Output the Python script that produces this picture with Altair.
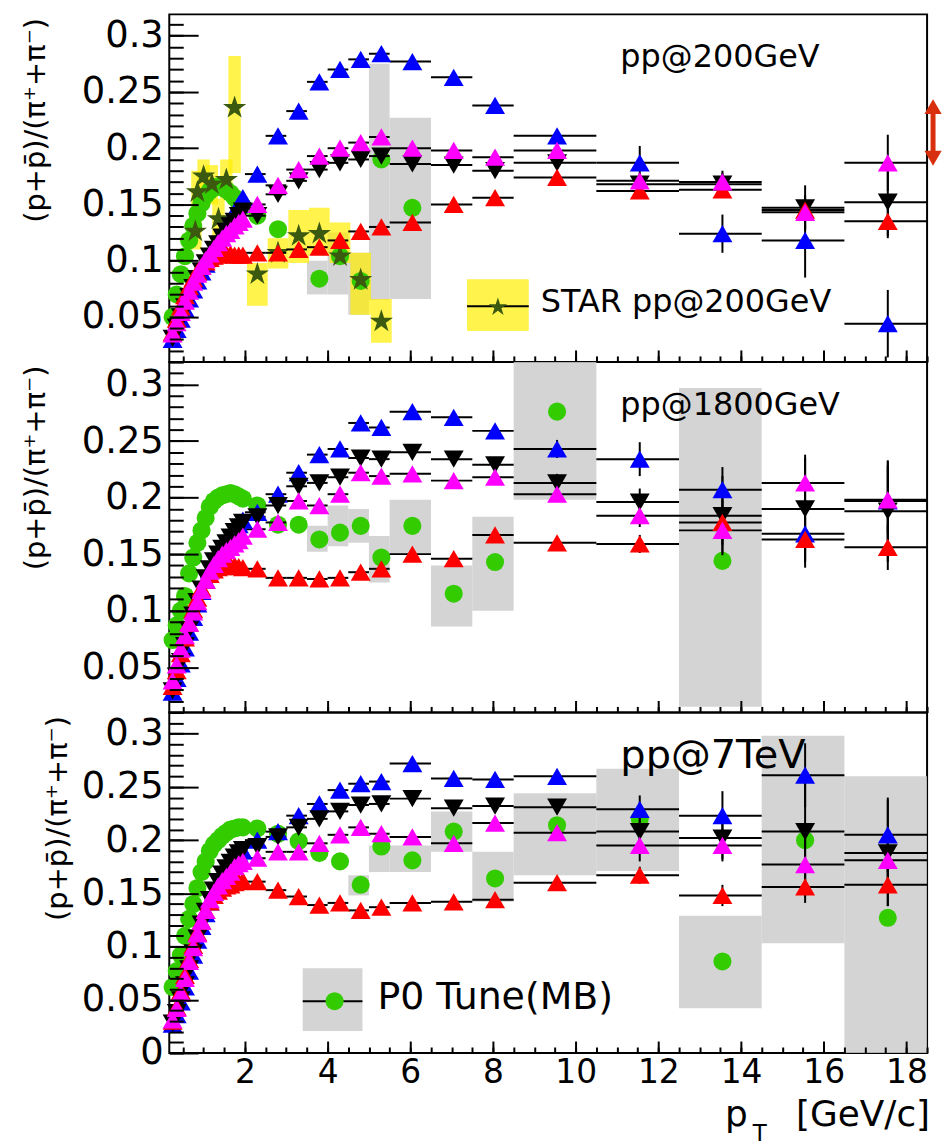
import altair as alt
import pandas as pd

FONT = "DejaVu Sans"
W = 761
X_DOMAIN = [0.17, 18.5]
X_MAJOR = [2, 4, 6, 8, 10, 12, 14, 16, 18]
X_MINOR = [0.5 * i for i in range(1, 38)]
Y_MAJOR = [0.05, 0.1, 0.15, 0.2, 0.25, 0.3]
Y_MAJOR_BOTTOM = [0, 0.05, 0.1, 0.15, 0.2, 0.25, 0.3]
Y_MINOR = [round(0.01 * i, 2) for i in range(0, 33)]
Y_TITLE = "(p+p\u0304)/(\u03c0\u207a+\u03c0\u207b)"

BLUE = "#0000ff"
BLACK = "#000000"
RED = "#ff0000"
MAGENTA = "#ff00ff"
GREEN = "#33cc00"
STAR_COLOR = "#3b5a10"
YELLOW = "#ffee00"
GREY = "#cdcdcd"
ARROW_COLOR = "#d8300e"
STAR_PATH = ("M0,-1L0.2245,-0.309L0.9511,-0.309L0.3633,0.118L0.5878,0.809L0,0.382"
             "L-0.5878,0.809L-0.3633,0.118L-0.9511,-0.309L-0.2245,-0.309Z")

# ---------------- shared x positions ----------------
X_LOW = [0.25, 0.35, 0.45, 0.55, 0.65, 0.75, 0.85, 0.95, 1.05, 1.15, 1.25, 1.35,
         1.45, 1.55, 1.65, 1.75, 1.85, 1.95]
X_HIGH = [2.3, 2.8, 3.3, 3.8, 4.3, 4.8, 5.3, 6.05, 7.05, 8.05, 9.55, 11.55, 13.55, 15.55, 17.55]
BIN_LO = [2.0, 2.5, 3.0, 3.5, 4.0, 4.5, 5.0, 5.5, 6.5, 7.5, 8.5, 10.5, 12.5, 14.5, 16.5]
BIN_HI = [2.5, 3.0, 3.5, 4.0, 4.5, 5.0, 5.5, 6.5, 7.5, 8.5, 10.5, 12.5, 14.5, 16.5, 18.5]

# ---------------- pp @ 200 GeV ----------------
BLUE_200_LOW = [0.030, 0.039, 0.048, 0.057, 0.066, 0.074, 0.082, 0.090, 0.097, 0.104, 0.111, 0.118,
                0.125, 0.131, 0.137, 0.143, 0.150, 0.156]
BLACK_200_LOW = [0.031, 0.041, 0.050, 0.059, 0.068, 0.076, 0.084, 0.091, 0.098, 0.104, 0.110, 0.115,
                 0.121, 0.126, 0.131, 0.135, 0.140, 0.144]
MAGENTA_200_LOW = [0.035, 0.045, 0.054, 0.064, 0.073, 0.081, 0.088, 0.095, 0.101, 0.106, 0.111, 0.116,
                   0.120, 0.124, 0.127, 0.131, 0.134, 0.137]
RED_200_LOW = [0.036, 0.048, 0.059, 0.069, 0.077, 0.084, 0.090, 0.095, 0.099, 0.102, 0.104, 0.105,
               0.106, 0.106, 0.106, 0.105, 0.105, 0.105]
GREEN_200_LOW = [0.050, 0.070, 0.088, 0.104, 0.118, 0.131, 0.142, 0.151, 0.158, 0.162, 0.165, 0.166,
                 0.165, 0.163, 0.160, 0.156, 0.152, 0.148]
BLUE_200_HIGH = [0.177, 0.211, 0.233, 0.259, 0.270, 0.279, 0.284, 0.277, 0.263, 0.238, 0.211, 0.187, 0.124, 0.118, 0.044]
BLACK_200_HIGH = [0.140, 0.159, 0.171, 0.181, 0.187, 0.190, 0.193, 0.186, 0.185, 0.180, 0.187, 0.168, 0.168, 0.147, 0.152]
MAGENTA_200_HIGH = [0.150, 0.167, 0.181, 0.193, 0.200, 0.205, 0.210, 0.200, 0.198, 0.192, 0.198, 0.171, 0.170, 0.143, 0.187]
RED_200_HIGH = [0.107, 0.107, 0.110, 0.112, 0.118, 0.126, 0.130, 0.134, 0.150, 0.156, 0.174, 0.162, 0.163, 0.145, 0.135]
BLUE_200_ERR = [0, 0, 0, 0, 0, 0, 0, 0, 0.003, 0.004, 0.006, 0.015, 0.017, 0.033, 0.030]
BLACK_200_ERR = [0, 0, 0, 0, 0, 0, 0, 0, 0.003, 0.004, 0.006, 0.008, 0.010, 0.020, 0.030]
MAGENTA_200_ERR = [0, 0, 0, 0, 0, 0, 0, 0, 0.003, 0.004, 0.005, 0.007, 0.010, 0.015, 0.025]
RED_200_ERR = [0, 0, 0, 0, 0, 0, 0, 0, 0.002, 0.003, 0.004, 0.005, 0.007, 0.010, 0.015]
GREEN_200_HIGH = [0.140, 0.128, None, 0.084, 0.104, 0.082, 0.190, 0.147, None, None, None, None, None, None, None]
GREY_200_LO = [None, None, None, 0.070, 0.070, 0.052, 0.065, 0.066, None, None, None, None, None, None, None]
GREY_200_HI = [None, None, None, 0.100, 0.125, 0.107, 0.275, 0.227, None, None, None, None, None, None, None]

STAR_X = [0.80, 0.85, 1.00, 1.20, 1.36, 1.55, 1.75, 2.30, 2.80, 3.30, 3.80, 4.30, 4.80, 5.30]
STAR_Y = [0.126, 0.161, 0.175, 0.168, 0.137, 0.172, 0.236, 0.088, 0.107, 0.122, 0.124, 0.104, 0.083, 0.046]
STAR_LO = [0.110, 0.145, 0.158, 0.150, 0.120, 0.155, 0.178, 0.060, 0.093, 0.098, 0.105, 0.098, 0.052, 0.027]
STAR_HI = [0.142, 0.180, 0.190, 0.185, 0.155, 0.190, 0.282, 0.098, 0.120, 0.145, 0.147, 0.134, 0.107, 0.066]
STAR_HW = [0.15, 0.15, 0.15, 0.15, 0.15, 0.15, 0.15, 0.25, 0.25, 0.25, 0.25, 0.25, 0.25, 0.25]
ARROW_Y = [0.237, 0.191]

# ---------------- pp @ 1800 GeV ----------------
BLUE_1800_LOW = [0.028, 0.040, 0.053, 0.067, 0.081, 0.094, 0.106, 0.117, 0.127, 0.136, 0.143, 0.149,
                 0.155, 0.160, 0.166, 0.171, 0.176, 0.180]
BLACK_1800_LOW = [0.029, 0.042, 0.055, 0.069, 0.083, 0.096, 0.108, 0.119, 0.129, 0.137, 0.144, 0.150,
                  0.155, 0.160, 0.165, 0.170, 0.174, 0.178]
MAGENTA_1800_LOW = [0.038, 0.052, 0.066, 0.078, 0.089, 0.099, 0.108, 0.118, 0.127, 0.135, 0.141, 0.146,
                    0.150, 0.153, 0.156, 0.159, 0.162, 0.166]
RED_1800_LOW = [0.033, 0.047, 0.062, 0.076, 0.089, 0.101, 0.111, 0.120, 0.127, 0.132, 0.136, 0.138,
                0.139, 0.140, 0.140, 0.140, 0.139, 0.138]
GREEN_1800_LOW = [0.074, 0.087, 0.100, 0.113, 0.133, 0.147, 0.160, 0.171, 0.182, 0.192, 0.197, 0.200,
                  0.202, 0.203, 0.204, 0.203, 0.201, 0.199]
BLUE_1800_HIGH = [0.187, 0.203, 0.222, 0.238, 0.243, 0.266, 0.262, 0.276, 0.271, 0.259, 0.243, 0.234, 0.207, 0.168, 0.197]
BLACK_1800_HIGH = [0.183, 0.193, 0.210, 0.213, 0.218, 0.235, 0.234, 0.240, 0.234, 0.229, 0.213, 0.196, 0.184, 0.190, 0.188]
MAGENTA_1800_HIGH = [0.172, 0.178, 0.197, 0.193, 0.203, 0.222, 0.219, 0.221, 0.215, 0.218, 0.203, 0.184, 0.171, 0.213, 0.198]
RED_1800_HIGH = [0.137, 0.129, 0.129, 0.128, 0.129, 0.134, 0.137, 0.150, 0.146, 0.167, 0.160, 0.159, 0.178, 0.163, 0.156]
BLUE_1800_ERR = [0, 0, 0, 0, 0, 0, 0, 0, 0.003, 0.005, 0.008, 0.015, 0.020, 0.030, 0.035]
BLACK_1800_ERR = [0, 0, 0, 0, 0, 0, 0, 0, 0.003, 0.005, 0.008, 0.012, 0.035, 0.045, 0.045]
MAGENTA_1800_ERR = [0, 0, 0, 0, 0, 0, 0, 0, 0.003, 0.004, 0.006, 0.010, 0.020, 0.025, 0.030]
RED_1800_ERR = [0, 0, 0, 0, 0, 0, 0, 0, 0.002, 0.003, 0.005, 0.008, 0.020, 0.020, 0.020]
GREEN_1800_HIGH = [0.193, 0.176, 0.176, 0.163, 0.169, 0.175, 0.147, 0.175, 0.115, 0.143, 0.276, None, 0.144, None, None]
GREY_1800_LO = [None, None, None, 0.152, 0.157, 0.160, 0.125, 0.150, 0.086, 0.100, 0.198, None, 0.015, None, None]
GREY_1800_HI = [None, None, None, 0.175, 0.193, 0.190, 0.166, 0.198, 0.140, 0.183, 0.320, None, 0.297, None, None]

# ---------------- pp @ 7 TeV ----------------
BLUE_7_LOW = [0.027, 0.036, 0.048, 0.062, 0.077, 0.092, 0.106, 0.119, 0.131, 0.142, 0.151, 0.159,
              0.166, 0.172, 0.178, 0.183, 0.187, 0.190]
BLACK_7_LOW = [0.028, 0.038, 0.050, 0.064, 0.079, 0.094, 0.108, 0.121, 0.133, 0.144, 0.153, 0.161,
               0.168, 0.174, 0.179, 0.184, 0.188, 0.191]
MAGENTA_7_LOW = [0.031, 0.042, 0.056, 0.070, 0.086, 0.099, 0.112, 0.124, 0.134, 0.144, 0.151, 0.157,
                 0.162, 0.166, 0.170, 0.175, 0.178, 0.180]
RED_7_LOW = [0.030, 0.043, 0.058, 0.073, 0.088, 0.101, 0.113, 0.124, 0.134, 0.142, 0.148, 0.152,
             0.155, 0.157, 0.158, 0.160, 0.161, 0.162]
GREEN_7_LOW = [0.062, 0.077, 0.092, 0.110, 0.126, 0.140, 0.155, 0.170, 0.180, 0.190, 0.196, 0.200,
               0.204, 0.207, 0.210, 0.211, 0.212, 0.212]
BLUE_7_HIGH = [0.200, 0.208, 0.223, 0.234, 0.247, 0.253, 0.255, 0.272, 0.258, 0.257, 0.260, 0.229, 0.223, 0.261, 0.205]
BLACK_7_HIGH = [0.194, 0.203, 0.212, 0.220, 0.227, 0.233, 0.234, 0.239, 0.230, 0.232, 0.231, 0.208, 0.202, 0.208, 0.188]
MAGENTA_7_HIGH = [0.183, 0.189, 0.189, 0.197, 0.205, 0.212, 0.206, 0.203, 0.197, 0.216, 0.207, 0.195, 0.195, 0.177, 0.181]
RED_7_HIGH = [0.161, 0.153, 0.147, 0.139, 0.141, 0.134, 0.137, 0.141, 0.142, 0.144, 0.160, 0.167, 0.148, 0.156, 0.158]
BLUE_7_ERR = [0, 0, 0, 0, 0, 0, 0, 0, 0.003, 0.004, 0.006, 0.013, 0.023, 0.030, 0.035]
BLACK_7_ERR = [0, 0, 0, 0, 0, 0, 0, 0, 0.003, 0.004, 0.006, 0.015, 0.020, 0.050, 0.050]
MAGENTA_7_ERR = [0, 0, 0, 0, 0, 0, 0, 0, 0.003, 0.004, 0.005, 0.015, 0.015, 0.030, 0.030]
RED_7_ERR = [0, 0, 0, 0, 0, 0, 0, 0, 0.002, 0.003, 0.004, 0.008, 0.010, 0.015, 0.020]
GREEN_7_HIGH = [0.211, 0.206, 0.199, 0.188, 0.180, 0.158, 0.194, 0.181, 0.208, 0.164, 0.214, 0.220, 0.086, 0.200, 0.127]
GREY_7_LO = [None, None, None, None, None, 0.148, 0.170, 0.170, 0.189, 0.142, 0.167, 0.171, 0.042, 0.103, 0.000]
GREY_7_HI = [None, None, None, None, None, 0.167, 0.195, 0.195, 0.227, 0.189, 0.244, 0.267, 0.129, 0.298, 0.260]

ONE = pd.DataFrame({"k": [0]})


def series_frame(y_low, y_high, err):
    rows = []
    for x, y in zip(X_LOW, y_low):
        rows.append({"x": x, "y": y, "xl": x, "xh": x, "yl": y, "yh": y, "hi": 0})
    for x, y, e, lo, hi in zip(X_HIGH, y_high, err, BIN_LO, BIN_HI):
        rows.append({"x": x, "y": y, "xl": lo, "xh": hi, "yl": y - e, "yh": y + e, "hi": 1})
    return pd.DataFrame(rows)


def text_mark(txt, x, y, size, align="left", baseline="middle"):
    return alt.Chart(ONE).mark_text(text=txt, font=FONT, fontSize=size, align=align,
                                    baseline=baseline, color="black").encode(
        x=alt.value(x), y=alt.value(y))


def make_panel(height, ydom, ylabels, title_x, series, green_low, green_high, grey_lo, grey_hi,
               show_x_labels, under, over_green, after):
    xs = alt.Scale(domain=X_DOMAIN, nice=False, zero=False)
    ys = alt.Scale(domain=ydom, nice=False, zero=False)
    anchor = pd.DataFrame({"x": [X_DOMAIN[0]], "y": [ydom[0]]})
    inv = alt.Chart(anchor).mark_point(opacity=0)

    if show_x_labels:
        xax = alt.Axis(values=X_MAJOR, format="d", ticks=False, tickSize=0, domain=False, grid=False,
                       labelFontSize=33, labelPadding=4, labelFlush=False, labelOverlap=False,
                       title=None, orient="bottom")
    else:
        xax = None
    lab = inv.encode(
        x=alt.X("x:Q", scale=xs, axis=xax),
        y=alt.Y("y:Q", scale=ys, axis=alt.Axis(
            values=ylabels, format="~g", ticks=False, tickSize=0, domain=False, grid=False,
            labelFontSize=37, labelPadding=6, labelFlush=False, labelOverlap=False,
            title=Y_TITLE, titleFontSize=29, titleAngle=270, titleAlign="right",
            titleBaseline="middle", titleX=title_x, titleY=3, titleFontWeight="normal",
            orient="left")),
    )
    major = inv.encode(
        x=alt.X("x:Q", scale=xs, axis=alt.Axis(
            orient="top", offset=-height, values=X_MAJOR, labels=False, domain=False, grid=False,
            tickSize=12, tickWidth=2, tickColor="black", title=None, zindex=2)),
        y=alt.Y("y:Q", scale=ys, axis=alt.Axis(
            orient="right", offset=-W, values=ylabels, labels=False, domain=False, grid=False,
            tickSize=29, tickWidth=2, tickColor="black", title=None, zindex=2)),
    )
    minor = inv.encode(
        x=alt.X("x:Q", scale=xs, axis=alt.Axis(
            orient="top", offset=-height, values=X_MINOR, labels=False, domain=False, grid=False,
            tickSize=6, tickWidth=2, tickColor="black", title=None, zindex=2)),
        y=alt.Y("y:Q", scale=ys, axis=alt.Axis(
            orient="right", offset=-W, values=Y_MINOR, labels=False, domain=False, grid=False,
            tickSize=14, tickWidth=2, tickColor="black", title=None, zindex=2)),
    )

    grey_rows = [{"x0": lo_x, "x1": hi_x, "y0": lo, "y1": hi}
                 for lo_x, hi_x, lo, hi in zip(BIN_LO, BIN_HI, grey_lo, grey_hi) if lo is not None]
    grey = alt.Chart(pd.DataFrame(grey_rows)).mark_rect(color=GREY, opacity=0.85, clip=True).encode(
        x=alt.X("x0:Q", scale=xs, axis=None), x2="x1:Q",
        y=alt.Y("y0:Q", scale=ys, axis=None), y2="y1:Q")

    g_rows = [{"x": x, "y": y} for x, y in zip(X_LOW, green_low)]
    g_rows += [{"x": x, "y": y} for x, y in zip(X_HIGH, green_high) if y is not None]
    green = alt.Chart(pd.DataFrame(g_rows)).mark_point(
        shape="circle", filled=True, size=330, color=GREEN, opacity=1).encode(
        x=alt.X("x:Q", scale=xs, axis=None), y=alt.Y("y:Q", scale=ys, axis=None))

    frames = [(series_frame(lo, hi, e), color, shape) for (lo, hi, e, color, shape) in series]
    allf = pd.concat([f for f, _, _ in frames], ignore_index=True)
    hdf = allf[allf["hi"] == 1]
    vdf = allf[allf["yh"] > allf["yl"]]
    hbar = alt.Chart(hdf).mark_rule(color="black", strokeWidth=2).encode(
        x=alt.X("xl:Q", scale=xs, axis=None), x2="xh:Q", y=alt.Y("y:Q", scale=ys, axis=None))
    vbar = alt.Chart(vdf).mark_rule(color="black", strokeWidth=2).encode(
        x=alt.X("x:Q", scale=xs, axis=None), y=alt.Y("yl:Q", scale=ys, axis=None), y2="yh:Q")

    tri = []
    for f, color, shape in frames:
        tri.append(alt.Chart(f).mark_point(shape=shape, filled=True, size=400, color=color,
                                           opacity=1).encode(
            x=alt.X("x:Q", scale=xs, axis=None), y=alt.Y("y:Q", scale=ys, axis=None)))

    layers = [lab, major, minor, grey]
    layers += under(xs, ys)
    layers += [green]
    layers += over_green(xs, ys)
    layers += [hbar, vbar] + tri
    layers += after(xs, ys)
    return alt.layer(*layers).properties(width=W, height=height).resolve_axis(
        x="independent", y="independent")


# ---- extras for each panel ----
def none_extra(xs, ys):
    return []


def top_under(xs, ys):
    yb = pd.DataFrame({"x0": [x - w for x, w in zip(STAR_X, STAR_HW)],
                       "x1": [x + w for x, w in zip(STAR_X, STAR_HW)],
                       "y0": STAR_LO, "y1": STAR_HI})
    ybox = alt.Chart(yb).mark_rect(color=YELLOW, opacity=0.7).encode(
        x=alt.X("x0:Q", scale=xs, axis=None), x2="x1:Q",
        y=alt.Y("y0:Q", scale=ys, axis=None), y2="y1:Q")
    return [ybox]


def top_over_green(xs, ys):
    sd = pd.DataFrame({"x": STAR_X, "y": STAR_Y})
    stars = alt.Chart(sd).mark_point(shape=STAR_PATH, filled=True, size=600, color=STAR_COLOR,
                                     opacity=1).encode(
        x=alt.X("x:Q", scale=xs, axis=None), y=alt.Y("y:Q", scale=ys, axis=None))
    return [stars]


def top_after(xs, ys):
    ad = pd.DataFrame({"y0": [ARROW_Y[0]], "y1": [ARROW_Y[1]]})
    shaft = alt.Chart(ad).mark_rule(color=ARROW_COLOR, strokeWidth=5).encode(
        x=alt.value(W + 6), y=alt.Y("y0:Q", scale=ys, axis=None), y2="y1:Q")
    hd = pd.DataFrame({"y": ARROW_Y, "s": ["triangle-up", "triangle-down"]})
    heads = alt.Chart(hd).mark_point(filled=True, size=300, color=ARROW_COLOR, opacity=1).encode(
        x=alt.value(W + 6), y=alt.Y("y:Q", scale=ys, axis=None),
        shape=alt.Shape("s:N", scale=None, legend=None))
    leg_box = alt.Chart(ONE).mark_rect(color=YELLOW, opacity=0.7).encode(
        x=alt.value(299), x2=alt.value(361), y=alt.value(266), y2=alt.value(318))
    leg_line = alt.Chart(ONE).mark_rule(color="black", strokeWidth=2).encode(
        x=alt.value(299), x2=alt.value(361), y=alt.value(293))
    leg_star = alt.Chart(ONE).mark_point(shape=STAR_PATH, filled=True, size=380, color=STAR_COLOR,
                                         opacity=1).encode(x=alt.value(330), y=alt.value(294))
    return [shaft, heads, leg_box, leg_line, leg_star,
            text_mark("STAR pp@200GeV", 373, 289, 32),
            text_mark("pp@200GeV", 453, 43, 32)]


def mid_after(xs, ys):
    return [text_mark("pp@1800GeV", 453, 43, 32)]


def bot_after(xs, ys):
    leg_box = alt.Chart(ONE).mark_rect(color=GREY, opacity=0.85).encode(
        x=alt.value(134), x2=alt.value(194), y=alt.value(257), y2=alt.value(320))
    leg_line = alt.Chart(ONE).mark_rule(color="black", strokeWidth=2).encode(
        x=alt.value(134), x2=alt.value(194), y=alt.value(290))
    leg_dot = alt.Chart(ONE).mark_point(shape="circle", filled=True, size=330, color=GREEN,
                                        opacity=1).encode(x=alt.value(166), y=alt.value(290))
    return [leg_box, leg_line, leg_dot,
            text_mark("P0 Tune(MB)", 209, 287, 38),
            text_mark("pp@7TeV", 453, 44, 40),
            text_mark("p", 558, 415, 36, baseline="alphabetic"),
            text_mark("T", 593, 430, 23, align="center", baseline="alphabetic"),
            text_mark("[GeV/c]", 764, 415, 36, align="right", baseline="alphabetic")]


top = make_panel(
    349, [0.01, 0.319], Y_MAJOR, -134,
    [(BLUE_200_LOW, BLUE_200_HIGH, BLUE_200_ERR, BLUE, "triangle-up"),
     (BLACK_200_LOW, BLACK_200_HIGH, BLACK_200_ERR, BLACK, "triangle-down"),
     (RED_200_LOW, RED_200_HIGH, RED_200_ERR, RED, "triangle-up"),
     (MAGENTA_200_LOW, MAGENTA_200_HIGH, MAGENTA_200_ERR, MAGENTA, "triangle-up")],
    GREEN_200_LOW, GREEN_200_HIGH, GREY_200_LO, GREY_200_HI, False,
    top_under, top_over_green, top_after)

mid = make_panel(
    352, [0.01, 0.32], Y_MAJOR, -134,
    [(BLUE_1800_LOW, BLUE_1800_HIGH, BLUE_1800_ERR, BLUE, "triangle-up"),
     (BLACK_1800_LOW, BLACK_1800_HIGH, BLACK_1800_ERR, BLACK, "triangle-down"),
     (RED_1800_LOW, RED_1800_HIGH, RED_1800_ERR, RED, "triangle-up"),
     (MAGENTA_1800_LOW, MAGENTA_1800_HIGH, MAGENTA_1800_ERR, MAGENTA, "triangle-up")],
    GREEN_1800_LOW, GREEN_1800_HIGH, GREY_1800_LO, GREY_1800_HI, False,
    none_extra, none_extra, mid_after)

bot = make_panel(
    342, [0.0, 0.32], Y_MAJOR_BOTTOM, -112,
    [(BLUE_7_LOW, BLUE_7_HIGH, BLUE_7_ERR, BLUE, "triangle-up"),
     (BLACK_7_LOW, BLACK_7_HIGH, BLACK_7_ERR, BLACK, "triangle-down"),
     (RED_7_LOW, RED_7_HIGH, RED_7_ERR, RED, "triangle-up"),
     (MAGENTA_7_LOW, MAGENTA_7_HIGH, MAGENTA_7_ERR, MAGENTA, "triangle-up")],
    GREEN_7_LOW, GREEN_7_HIGH, GREY_7_LO, GREY_7_HI, True,
    none_extra, none_extra, bot_after)

chart = alt.vconcat(top, mid, bot, spacing=0, bounds="flush").configure_view(
    stroke="black", strokeWidth=2
).configure_axis(
    labelFont=FONT, titleFont=FONT, labelColor="black", titleColor="black"
).properties(padding={"left": 21, "top": 11, "right": 1, "bottom": 2})

chart.save("out.html", embed_options={"renderer": "svg", "actions": False})
